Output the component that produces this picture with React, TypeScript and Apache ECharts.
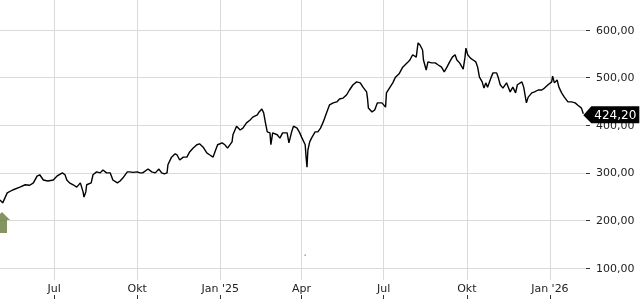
import React, { useEffect, useRef } from "react";
import * as echarts from "echarts";

// Days since 2024-05-02 and the price read at that day
const startDate = "2024-05-02";
const dayOffsets = [
  0, 3, 8, 14, 22, 28, 33, 37, 41, 44, 48, 53, 59, 63, 69, 72, 74, 77, 81, 85,
  89, 92, 93, 95, 96, 101, 103, 107, 111, 114, 118, 122, 125, 130, 133, 136, 141, 144, 147, 152,
  155, 158, 164, 168, 172, 176, 179, 182, 185, 186, 190, 194, 196, 199, 203, 207, 210, 214, 218, 221,
  225, 229, 232, 236, 238, 241, 246, 249, 252, 257, 258, 262, 266, 269, 273, 277, 280, 285, 287, 290,
  292, 294, 296, 299, 300, 302, 307, 310, 313, 318, 320, 323, 325, 329, 332, 334, 338, 339, 340, 341,
  343, 345, 349, 352, 355, 358, 362, 365, 369, 373, 376, 380, 384, 387, 391, 395, 399, 402, 406, 407,
  408, 412, 415, 418, 423, 427, 428, 432, 435, 438, 442, 446, 451, 454, 457, 461, 463, 465, 468, 469,
  472, 474, 478, 482, 485, 489, 492, 495, 498, 501, 504, 506, 509, 513, 515, 516, 518, 521, 524, 527,
  529, 531, 534, 536, 538, 540, 544, 546, 550, 552, 554, 557, 561, 565, 568, 571, 573, 578, 580, 583,
  585, 589, 592, 596, 600, 603, 607, 611, 612, 614, 617, 619, 622, 625, 629, 633, 637, 640, 644, 646,
];
const prices = [
  243, 237, 258, 264, 270, 275, 274, 279, 293, 296, 285, 283, 285, 293, 300, 296, 285, 279, 275, 270,
  279, 260, 249, 260, 275, 279, 296, 302, 300, 306, 300, 300, 285, 279, 283, 289, 302, 302, 301, 302,
  300, 300, 308, 302, 300, 308, 300, 298, 300, 317, 333, 340, 338, 327, 333, 333, 344, 352, 359, 361,
  354, 342, 338, 333, 344, 359, 363, 359, 352, 365, 380, 398, 390, 394, 405, 411, 417, 422, 428, 434,
  426, 405, 386, 384, 359, 384, 380, 373, 384, 384, 363, 386, 398, 394, 384, 375, 359, 333, 312, 348,
  365, 373, 386, 386, 394, 407, 428, 443, 447, 449, 455, 457, 464, 474, 485, 491, 489, 480, 470, 457,
  436, 428, 432, 447, 447, 438, 468, 480, 489, 501, 508, 522, 531, 537, 548, 543, 573, 569, 558, 537,
  516, 533, 531, 531, 527, 522, 512, 522, 533, 543, 548, 537, 531, 518, 543, 562, 548, 541, 537, 533,
  522, 501, 491, 478, 489, 480, 501, 510, 510, 499, 485, 478, 489, 470, 480, 468, 485, 491, 480, 447,
  459, 468, 470, 474, 474, 478, 485, 491, 503, 489, 495, 480, 468, 459, 449, 449, 447, 442, 436, 424.2,
];

// Signal markers
const buySignalDay = 0;
const buySignalValue = 196;
const strayMarkDay = 338;
const strayMarkValue = 127;

// Axis
const axisMinDate = "2024-05-02";
const axisMaxDate = "2026-02-10";
const quarterDates = ["2024-07-01", "2024-10-01", "2025-01-01", "2025-04-01", "2025-07-01", "2025-10-01", "2026-01-01"];
const quarterLabels = ["Jul", "Okt", "Jan '25", "Apr", "Jul", "Okt", "Jan '26"];
const yTicks = [100, 200, 300, 400, 500, 600];
const yMin = 75;
const yMax = 663;

const DAY = 86400000;
const toTs = (s: string) => {
  const [y, m, d] = s.split("-").map(Number);
  return Date.UTC(y, m - 1, d);
};
const fmtDe = (v: number) => v.toFixed(2).replace(".", ",");

export default function App() {
  const ref = useRef<HTMLDivElement>(null);
  useEffect(() => {
    if (!ref.current) return;
    const chart = echarts.init(ref.current, null, { renderer: "svg" });
    const start = toTs(startDate);
    const data = dayOffsets.map((d, i) => [start + d * DAY, prices[i]]);
    const qTs = quarterDates.map(toTs);
    const last = data[data.length - 1];
    const font = "DejaVu Sans";
    chart.setOption({
      animation: false,
      textStyle: { fontFamily: font },
      grid: { left: 0, right: 54, top: 0, bottom: 20 },
      xAxis: [
        {
          type: "value",
          min: toTs(axisMinDate),
          max: toTs(axisMaxDate),
          axisLine: { show: false },
          axisTick: { show: false, customValues: qTs },
          splitLine: { show: true, lineStyle: { color: "#dadada", width: 1 } },
          axisLabel: {
            customValues: qTs,
            margin: 3,
            fontSize: 11,
            fontFamily: font,
            color: "#222",
            hideOverlap: false,
            formatter: (v: number) => {
              const i = qTs.indexOf(v);
              return i >= 0 ? quarterLabels[i] : "";
            },
          },
        },
        {
          type: "value",
          position: "bottom",
          offset: 19,
          min: toTs(axisMinDate),
          max: toTs(axisMaxDate),
          axisLine: { show: false },
          axisTick: { show: true, inside: true, length: 4, customValues: qTs, lineStyle: { color: "#333" } },
          splitLine: { show: false },
          axisLabel: { show: false, customValues: qTs },
        },
      ],
      yAxis: {
        type: "value",
        position: "right",
        min: yMin,
        max: yMax,
        axisLine: { show: false },
        axisTick: { show: true, length: 4, customValues: yTicks, lineStyle: { color: "#333" } },
        splitLine: { show: true, lineStyle: { color: "#dadada", width: 1 } },
        axisLabel: {
          customValues: yTicks,
          margin: 10,
          fontSize: 11,
          fontFamily: font,
          color: "#222",
          formatter: (v: number) => fmtDe(v),
        },
      },
      series: [
        {
          type: "line",
          data,
          showSymbol: false,
          symbol: "none",
          lineStyle: { color: "#000", width: 1.4 },
          markPoint: {
            symbol: "path://M0 9 L8 0 L56 0 L56 17 L8 17 Z",
            symbolSize: [56, 17],
            symbolOffset: [28, 1],
            symbolKeepAspect: false,
            itemStyle: { color: "#000" },
            label: {
              show: true,
              position: "inside",
              offset: [4, 0],
              color: "#fff",
              fontSize: 12,
              fontFamily: font,
              formatter: () => fmtDe(last[1] as number),
            },
            data: [{ coord: last, value: last[1] }],
          },
        },
        {
          type: "scatter",
          clip: false,
          symbol: "path://M8 0 L16 8 L13 8 L13 21 L3 21 L3 8 L0 8 Z",
          symbolSize: [16, 21],
          symbolOffset: [2, 0],
          itemStyle: { color: "#67793a" },
          data: [[start + buySignalDay * DAY, buySignalValue]],
        },
        {
          type: "scatter",
          symbol: "rect",
          symbolSize: 1.5,
          itemStyle: { color: "#888" },
          data: [[start + strayMarkDay * DAY, strayMarkValue]],
        },
      ],
    });
    return () => chart.dispose();
  }, []);
  return <div ref={ref} style={{ position: "fixed", left: 0, top: 0, width: 640, height: 300 }} />;
}
